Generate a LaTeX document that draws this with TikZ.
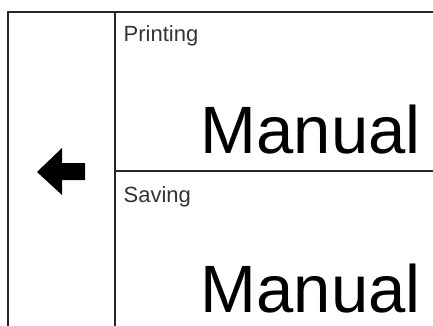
\documentclass[tikz,border=0pt]{standalone}
\usepackage{fontspec}
\setmainfont{Liberation Sans}
\begin{document}
\begin{tikzpicture}[x=1pt,y=-1pt,
  frame/.style={line width=2.3pt, draw=black!85},
  small/.style={font=\fontsize{22}{26}\selectfont, text=black!80, inner sep=0pt, anchor=base west},
  big/.style={font=\fontsize{67}{79}\selectfont, text=black, inner sep=0pt, anchor=base west}]
\useasboundingbox (0,0) rectangle (433,326);
\fill[white] (0,0) rectangle (433,326);
\coordinate (lb) at (8,326);
\coordinate (lt) at (8,12);
\coordinate (rt) at (433,12);
\coordinate (mt) at (115,12);
\coordinate (mb) at (115,326);
\coordinate (ml) at (115,171);
\coordinate (mr) at (433,171);
\draw[frame] (lb) -- (lt) -- (rt);
\draw[frame] (mt) -- (mb);
\draw[frame] (ml) -- (mr);
\fill[black] (37,172) -- (62,148) -- (62,163) -- (85,163) -- (85,180) -- (62,180) -- (62,195) -- cycle;
\node[small] (printing) at (123.5,42) {Printing};
\node[big] (manual1) at (200.5,153) {Manual};
\node[small] (saving) at (123.5,202) {Saving};
\node[big] (manual2) at (200.5,312.5) {Manual};
\end{tikzpicture}
\end{document}
